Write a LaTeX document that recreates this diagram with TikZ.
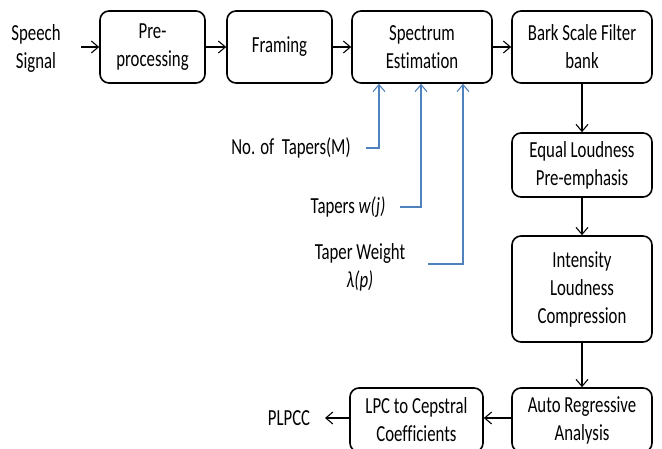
\documentclass[tikz,border=0pt]{standalone}
\usepackage{fontspec}
\setmainfont{Carlito}[FakeStretch=0.73,Ligatures=NoCommon]
\usetikzlibrary{arrows.meta}
\definecolor{tapblue}{RGB}{79,129,189}
\begin{document}
\begin{tikzpicture}[x=1pt,y=-1pt,
 box/.style={draw, line width=1.6pt, rounded corners=9pt, align=center, inner sep=0pt, font=\fontsize{23}{28}\selectfont},
 lbl/.style={align=center, inner sep=0pt, font=\fontsize{23}{28}\selectfont},
 conn/.style={line width=1.1pt, -{Straight Barb[length=7pt,width=12pt]}},
 bconn/.style={conn, draw=tapblue}]
\useasboundingbox (0,0) rectangle (662,449);
\clip (0,0) rectangle (662,449);
\fill[white] (0,0) rectangle (662,449);
% top row
\node[lbl] (speech) at (36,48) {Speech\\Signal};
\node[box, minimum width=105pt, minimum height=72pt] (pre) at (152.5,47) {Pre-\\processing};
\node[box, minimum width=105pt, minimum height=72pt] (frame) at (279.5,47) {Framing};
\node[box, minimum width=140pt, minimum height=72pt] (spec) at (422,47) {Spectrum\\Estimation};
\node[box, minimum width=140pt, minimum height=72pt] (bark) at (582,47) {Bark Scale Filter\\bank};
% right column
\node[box, minimum width=140pt, minimum height=64pt] (equal) at (582,165) {Equal Loudness\\Pre-emphasis};
\node[box, minimum width=140pt, minimum height=106pt] (inten) at (582,289) {Intensity\\Loudness\\Compression};
\node[box, minimum width=140pt, minimum height=64pt] (auto) at (582,420) {Auto Regressive\\Analysis};
\node[box, minimum width=133pt, minimum height=64pt] (lpc) at (416.5,420) {LPC to Cepstral\\Coefficients};
\node[lbl] (plpcc) at (289,418) {PLPCC};
% taper labels
\node[lbl] (ntap) at (291,148) {No. of\ \ Tapers(M)};
\node[lbl] (tapw) at (348,207) {Tapers \textit{w(j)}};
\node[lbl] (tapl) at (360,267) {Taper Weight\\\textit{λ(p)}};
\coordinate (b1) at (366,148);
\coordinate (b2) at (400,207);
\coordinate (b3) at (428,264);
% connectors
\draw[conn] (81,47) -- (pre.west);
\draw[conn] (pre) -- (frame);
\draw[conn] (frame) -- (spec);
\draw[conn] (spec) -- (bark);
\draw[conn] (bark) -- (equal);
\draw[conn] (equal) -- (inten);
\draw[conn] (inten) -- (auto);
\draw[conn] (auto.west |- 0,418) -- (lpc.east |- 0,418);
\draw[conn] (lpc.west |- 0,418) -- (325,418);
\draw[bconn] (b1) -| ([xshift=-43pt]spec.south);
\draw[bconn] (b2) -| ([xshift=-1pt]spec.south);
\draw[bconn] (b3) -| ([xshift=41pt]spec.south);
\end{tikzpicture}
\end{document}
